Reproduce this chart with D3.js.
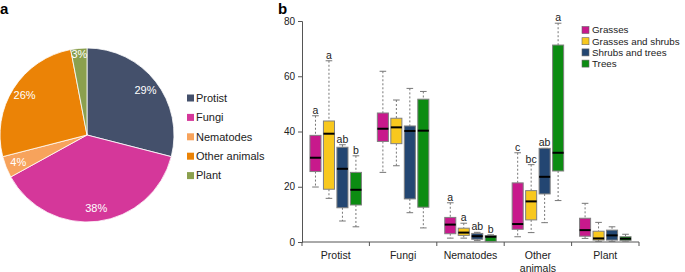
<!DOCTYPE html>
<html>
<head>
<meta charset="utf-8">
<script src="https://cdn.jsdelivr.net/npm/d3@7"></script>
<style>
  body { margin: 0; background: #fff; }
  svg { font-family: "Liberation Sans", Arial, sans-serif; }
</style>
</head>
<body>
<div id="chart"></div>
<script>
// ---- panel a data
var pieNames = ["Protist", "Fungi", "Nematodes", "Other animals", "Plant"];
var pieValues = [29, 38, 4, 26, 3];
var pieColors = ["#44506b", "#d5379a", "#f7a35c", "#eb8306", "#8ba04e"];

// ---- panel b data
var groups = ["Protist", "Fungi", "Nematodes", "Other animals", "Plant"];
var habitats = ["Grasses", "Grasses and shrubs", "Shrubs and trees", "Trees"];
var habColors = ["#c8198c", "#f8c81e", "#234672", "#0c8c12"];
var yTicks = [0, 20, 40, 60, 80];
// [whisker low, q1, median, q3, whisker high] per group, per habitat
var protist = [[19.9, 25.5, 30.5, 38.6, 45.7], [15.8, 19.1, 39.2, 43.8, 65.6], [7.6, 12.4, 26.5, 34.3, 35.2], [5.5, 13.4, 18.9, 25.2, 31.2]];
var fungi = [[25.2, 36.4, 41.0, 46.7, 61.8], [27.6, 35.6, 41.5, 44.8, 51.4], [10.6, 15.6, 40.2, 42.0, 55.6], [5.1, 12.6, 40.3, 51.7, 54.5]];
var nematodes = [[1.4, 3.0, 6.3, 8.9, 14.2], [1.4, 2.4, 3.4, 5.0, 6.8], [0.5, 1.0, 2.1, 3.1, 3.5], [0.1, 0.2, 1.9, 2.3, 2.6]];
var otherAnimals = [[1.9, 4.6, 6.5, 21.4, 32.3], [3.4, 8.0, 14.7, 18.6, 28.0], [7.0, 17.4, 23.6, 33.9, 33.9], [15.0, 25.7, 32.3, 71.3, 79.2]];
var plant = [[1.3, 2.1, 4.3, 8.6, 14.0], [0.2, 0.7, 1.3, 3.9, 7.1], [0.2, 0.7, 2.4, 4.3, 5.5], [0.3, 0.6, 1.2, 1.9, 2.8]];
var letters = [["a", "a", "ab", "b"], ["", "", "", ""], ["a", "a", "ab", "b"], ["c", "bc", "ab", "a"], ["", "", "", ""]];
var boxData = [protist, fungi, nematodes, otherAnimals, plant];

var svg = d3.select("#chart").append("svg")
  .attr("width", 685)
  .attr("height", 272);

// ================= panel a (pie)
svg.append("text").attr("x", 0).attr("y", 14)
  .attr("font-weight", "bold").attr("font-size", 15).text("a");

var pieG = svg.append("g").attr("transform", "translate(87,135)");
var r = 87;
var pie = d3.pie().sort(null).value(function(d) { return d; });
var arc = d3.arc().innerRadius(0).outerRadius(r);
var labelArc = d3.arc().innerRadius(r * 0.85).outerRadius(r * 0.85);
var arcs = pie(pieValues);

pieG.selectAll("path").data(arcs).enter().append("path")
  .attr("d", arc)
  .attr("fill", function(d, i) { return pieColors[i]; })
  .attr("stroke", "#fff")
  .attr("stroke-width", 0.8);

pieG.selectAll("text").data(arcs).enter().append("text")
  .attr("transform", function(d, i) {
    var c = labelArc.centroid(d);
    // small slice label sits near the rim
    if (i === 4) c = d3.arc().innerRadius(r * 0.93).outerRadius(r * 0.93).centroid(d);
    return "translate(" + c + ")";
  })
  .attr("text-anchor", "middle")
  .attr("dy", "0.35em")
  .attr("fill", "#fff")
  .attr("font-size", 11)
  .text(function(d) { return d.data + "%"; });

var pieLeg = svg.append("g").attr("transform", "translate(187,98)");
pieNames.forEach(function(n, i) {
  var row = pieLeg.append("g").attr("transform", "translate(0," + (i * 19.4) + ")");
  row.append("rect").attr("x", 0).attr("y", -3.5).attr("width", 7).attr("height", 7)
    .attr("fill", pieColors[i]);
  row.append("text").attr("x", 9).attr("dy", "0.35em")
    .attr("font-size", 11).attr("fill", "#222").text(n);
});

// ================= panel b (boxplots)
svg.append("text").attr("x", 278).attr("y", 14)
  .attr("font-weight", "bold").attr("font-size", 15).text("b");

var x = d3.scaleBand().domain(groups).range([302, 639]).paddingInner(0).paddingOuter(0);
var y = d3.scaleLinear().domain([0, 80]).range([242, 21]);
var bw = x.bandwidth();
var step = bw / 5;
var boxW = step * 0.82;

// y axis
var yAxis = svg.append("g").attr("transform", "translate(302,0)")
  .call(d3.axisLeft(y).tickValues(yTicks).tickSize(4).tickPadding(3));
yAxis.select(".domain").attr("stroke", "#555");
yAxis.selectAll(".tick line").attr("stroke", "#555");
yAxis.selectAll("text").attr("font-size", 10).attr("fill", "#222");
yAxis.attr("font-family", null);

// x axis line with ticks at group boundaries
var xAxis = svg.append("g");
xAxis.append("line").attr("x1", 302).attr("x2", 639).attr("y1", y(0)).attr("y2", y(0))
  .attr("stroke", "#555");
var bounds = groups.map(function(g) { return x(g); }).concat([x(groups[4]) + bw]);
xAxis.selectAll(".bt").data(bounds).enter().append("line")
  .attr("x1", function(d) { return d; }).attr("x2", function(d) { return d; })
  .attr("y1", y(0)).attr("y2", y(0) + 4).attr("stroke", "#555");
groups.forEach(function(g) {
  var t = xAxis.append("text").attr("x", x(g) + bw / 2).attr("y", 259)
    .attr("text-anchor", "middle").attr("font-size", 10.5).attr("fill", "#222");
  var parts = g === "Other animals" ? ["Other", "animals"] : [g];
  parts.forEach(function(p, k) {
    t.append("tspan").attr("x", x(g) + bw / 2).attr("dy", k === 0 ? 0 : 12.5).text(p);
  });
});

// boxes
var plot = svg.append("g");
groups.forEach(function(g, gi) {
  boxData[gi].forEach(function(s, hi) {
    var cx = x(g) + step * (hi + 1);
    var b = plot.append("g");
    // whiskers
    b.append("line").attr("x1", cx).attr("x2", cx).attr("y1", y(s[4])).attr("y2", y(s[3]))
      .attr("stroke", "#777").attr("stroke-dasharray", "2,2");
    b.append("line").attr("x1", cx).attr("x2", cx).attr("y1", y(s[1])).attr("y2", y(s[0]))
      .attr("stroke", "#777").attr("stroke-dasharray", "2,2");
    // caps
    [s[0], s[4]].forEach(function(v) {
      b.append("line").attr("x1", cx - boxW * 0.3).attr("x2", cx + boxW * 0.3)
        .attr("y1", y(v)).attr("y2", y(v)).attr("stroke", "#777");
    });
    b.append("rect").attr("x", cx - boxW / 2).attr("y", y(s[3]))
      .attr("width", boxW).attr("height", Math.max(y(s[1]) - y(s[3]), 0.5))
      .attr("fill", habColors[hi]).attr("stroke", "#808080").attr("stroke-width", 1);
    b.append("line").attr("x1", cx - boxW / 2).attr("x2", cx + boxW / 2)
      .attr("y1", y(s[2])).attr("y2", y(s[2])).attr("stroke", "#000").attr("stroke-width", 2);
    if (letters[gi][hi]) {
      b.append("text").attr("x", cx).attr("y", y(s[4]) - 2)
        .attr("text-anchor", "middle").attr("font-size", 10.5).attr("fill", "#222")
        .text(letters[gi][hi]);
    }
  });
});

// legend b
var leg = svg.append("g").attr("transform", "translate(582,30)");
habitats.forEach(function(h, i) {
  var row = leg.append("g").attr("transform", "translate(0," + (i * 11.2) + ")");
  row.append("rect").attr("x", 0).attr("y", -3.5).attr("width", 7).attr("height", 7)
    .attr("fill", habColors[i]).attr("stroke", "#666").attr("stroke-width", 0.6);
  row.append("text").attr("x", 10).attr("dy", "0.35em")
    .attr("font-size", 9.8).attr("fill", "#222").text(h);
});
</script>
</body>
</html>
